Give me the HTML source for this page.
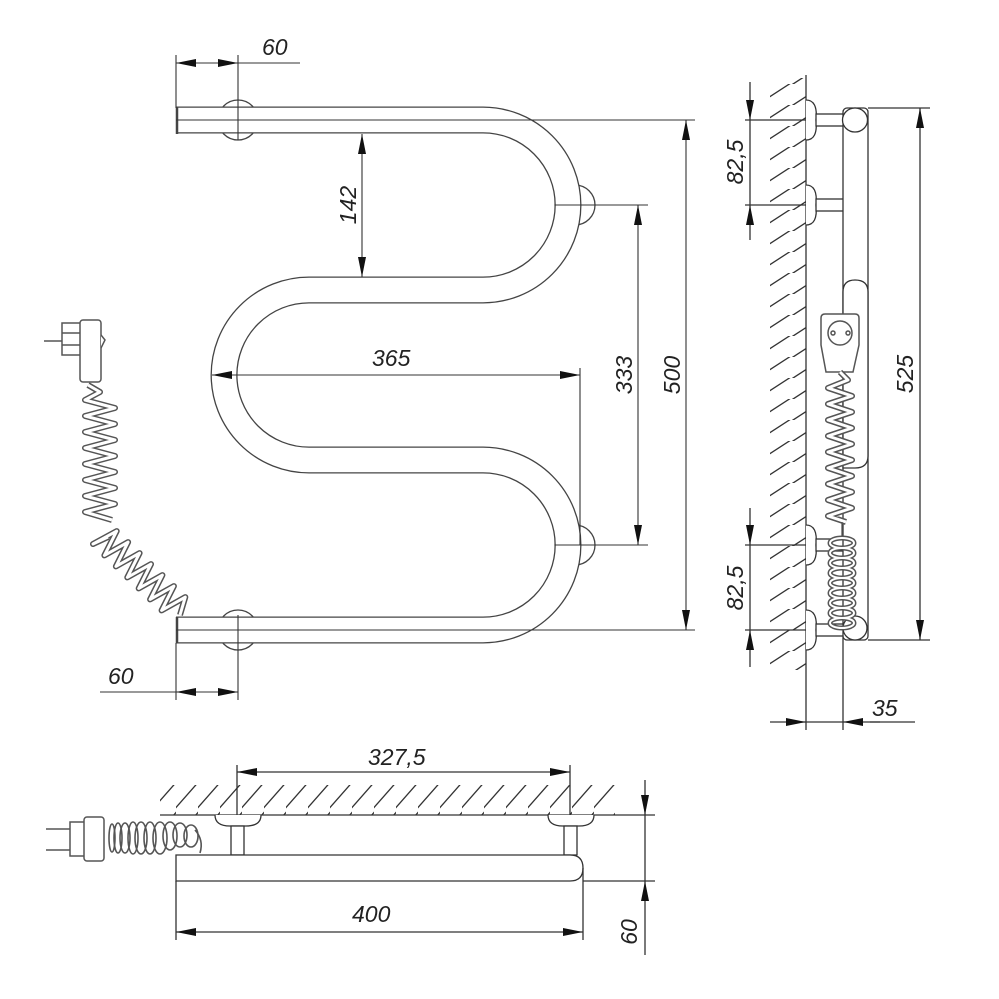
<!DOCTYPE html>
<html><head><meta charset="utf-8"><style>
html,body{margin:0;padding:0;background:#fff}
svg{display:block}
text{font-family:"Liberation Sans",sans-serif;font-style:italic;font-size:23px;fill:#222}
</style></head><body>
<svg width="999" height="999" viewBox="0 0 999 999" xmlns="http://www.w3.org/2000/svg">
<defs>
<marker id="a" viewBox="0 0 20 8" refX="20" refY="4" markerWidth="20" markerHeight="8" markerUnits="userSpaceOnUse" orient="auto-start-reverse"><path d="M0,0 L20,4 L0,8 Z" fill="#111"/></marker>
<pattern id="h1" width="22" height="30" patternUnits="userSpaceOnUse"><line x1="-4" y1="32" x2="26" y2="-2" stroke="#333" stroke-width="1.3"/></pattern>
<pattern id="h3" width="36" height="21" patternUnits="userSpaceOnUse"><line x1="-2" y1="23" x2="38" y2="-3" stroke="#333" stroke-width="1.3"/></pattern>
</defs>
<g fill="none" stroke="#444" stroke-width="1.3">
<circle cx="238" cy="120" r="20" fill="#fff"/>
<circle cx="575" cy="205" r="20" fill="#fff"/>
<circle cx="575" cy="545" r="20" fill="#fff"/>
<circle cx="238" cy="630" r="20" fill="#fff"/>
</g>
<path d="M176,120 H483 A85,85 0 0 1 483,290 H309 A85,85 0 0 0 309,460 H483 A85,85 0 0 1 483,630 H176" fill="none" stroke="#444" stroke-width="27"/>
<path d="M176,120 H483 A85,85 0 0 1 483,290 H309 A85,85 0 0 0 309,460 H483 A85,85 0 0 1 483,630 H176" fill="none" stroke="#fff" stroke-width="24.4"/>
<g stroke="#444" stroke-width="2.5"><line x1="177" y1="107" x2="177" y2="134"/><line x1="177" y1="617" x2="177" y2="643"/></g>
<g fill="none" stroke="#333" stroke-width="1.1">
<line x1="176" y1="120" x2="695" y2="120"/>
<line x1="176" y1="630" x2="695" y2="630"/>
<line x1="555" y1="205" x2="648" y2="205"/>
<line x1="555" y1="545" x2="648" y2="545"/>
<line x1="238" y1="55" x2="238" y2="140"/>
<line x1="176" y1="55" x2="176" y2="108"/>
<line x1="238" y1="615" x2="238" y2="700"/>
<line x1="176" y1="643" x2="176" y2="700"/>
<line x1="580" y1="368" x2="580" y2="545"/>
<line x1="176" y1="63" x2="238" y2="63" marker-start="url(#a)" marker-end="url(#a)"/>
<line x1="238" y1="63" x2="300" y2="63"/>
<line x1="362" y1="134" x2="362" y2="277" marker-start="url(#a)" marker-end="url(#a)"/>
<line x1="212" y1="375" x2="580" y2="375" marker-start="url(#a)" marker-end="url(#a)"/>
<line x1="638" y1="205" x2="638" y2="545" marker-start="url(#a)" marker-end="url(#a)"/>
<line x1="686" y1="120" x2="686" y2="630" marker-start="url(#a)" marker-end="url(#a)"/>
<line x1="176" y1="692" x2="238" y2="692" marker-start="url(#a)" marker-end="url(#a)"/>
<line x1="100" y1="692" x2="176" y2="692"/>
</g>
<text x="262" y="55">60</text>
<text x="108" y="684">60</text>
<text x="372" y="366">365</text>
<text transform="translate(356,205) rotate(-90)" text-anchor="middle">142</text>
<text transform="translate(632,375) rotate(-90)" text-anchor="middle">333</text>
<text transform="translate(680,375) rotate(-90)" text-anchor="middle">500</text>
<g fill="#fff" stroke="#555" stroke-width="1.5">
<line x1="44" y1="341" x2="62" y2="341"/>
<rect x="62" y="323" width="20" height="32"/>
<line x1="62" y1="333" x2="82" y2="333"/><line x1="62" y1="345" x2="82" y2="345"/>
<rect x="80" y="320" width="21" height="62" rx="3"/>
<path d="M101,335 L105,340 L101,348"/>
</g>
<polyline points="88,385 100,392 85,400 115,408 85,416 115,424 85,432 115,440 85,448 115,456 85,464 115,472 85,480 115,488 85,496 115,504 85,512 112,520" fill="none" stroke="#555" stroke-width="6" stroke-linejoin="round"/>
<polyline points="88,385 100,392 85,400 115,408 85,416 115,424 85,432 115,440 85,448 115,456 85,464 115,472 85,480 115,488 85,496 115,504 85,512 112,520" fill="none" stroke="#fff" stroke-width="3" stroke-linejoin="round"/>
<polyline points="108,537 93,544 116.7,531.1 104.4,555.4 128.1,542.1 115.9,566.4 139.6,553.1 127.3,577.4 151,564.1 138.7,588.4 162.4,575.1 150.1,599.4 173.9,586.1 161.6,610.4 185.3,597.1 180,615" fill="none" stroke="#555" stroke-width="6" stroke-linejoin="round"/>
<polyline points="108,537 93,544 116.7,531.1 104.4,555.4 128.1,542.1 115.9,566.4 139.6,553.1 127.3,577.4 151,564.1 138.7,588.4 162.4,575.1 150.1,599.4 173.9,586.1 161.6,610.4 185.3,597.1 180,615" fill="none" stroke="#fff" stroke-width="3" stroke-linejoin="round"/>

<!-- SIDE VIEW -->
<rect x="770" y="78" width="36" height="592" fill="url(#h3)"/>
<g fill="none" stroke="#333" stroke-width="1.3">
<line x1="806" y1="75" x2="806" y2="730"/>
<line x1="843" y1="635" x2="843" y2="730"/>
<g fill="#fff">
<path d="M806,100 Q818,100 816,120 Q818,140 806,140"/>
<path d="M806,185 Q818,185 816,205 Q818,225 806,225"/>
<path d="M806,525 Q818,525 816,545 Q818,565 806,565"/>
<path d="M806,610 Q818,610 816,630 Q818,650 806,650"/>
<rect x="816" y="114" width="28" height="12"/>
<rect x="816" y="199" width="28" height="12"/>
<rect x="816" y="539" width="28" height="12"/>
<rect x="816" y="624" width="28" height="12"/>
<rect x="843" y="108" width="25" height="532" rx="4"/>
<path d="M843,468 V292 Q843,280 855,280 Q868,280 868,292 V456 Q868,468 855,468 Z"/>
<ellipse cx="855" cy="120" rx="12.5" ry="12"/>
<circle cx="855" cy="628" r="12"/>
</g>
<line x1="745" y1="120" x2="806" y2="120"/><line x1="745" y1="205" x2="806" y2="205"/>
<line x1="745" y1="545" x2="806" y2="545"/><line x1="745" y1="630" x2="806" y2="630"/>
<line x1="750" y1="82" x2="750" y2="120" marker-end="url(#a)"/>
<line x1="750" y1="120" x2="750" y2="205"/>
<line x1="750" y1="240" x2="750" y2="205" marker-end="url(#a)"/>
<line x1="750" y1="508" x2="750" y2="545" marker-end="url(#a)"/>
<line x1="750" y1="545" x2="750" y2="630"/>
<line x1="750" y1="667" x2="750" y2="630" marker-end="url(#a)"/>
<line x1="868" y1="108" x2="930" y2="108"/><line x1="868" y1="640" x2="930" y2="640"/>
<line x1="920" y1="108" x2="920" y2="640" marker-start="url(#a)" marker-end="url(#a)"/>
<line x1="770" y1="722" x2="806" y2="722" marker-end="url(#a)"/>
<line x1="806" y1="722" x2="843" y2="722"/>
<line x1="880" y1="722" x2="843" y2="722" marker-end="url(#a)"/>
<line x1="870" y1="722" x2="915" y2="722"/>
</g>
<text transform="translate(743,162) rotate(-90)" text-anchor="middle">82,5</text>
<text transform="translate(743,588) rotate(-90)" text-anchor="middle">82,5</text>
<text transform="translate(913,374) rotate(-90)" text-anchor="middle">525</text>
<text x="872" y="716">35</text>
<g fill="#fff" stroke="#555" stroke-width="1.5">
<path d="M821,318 Q821,314 825,314 H855 Q859,314 859,318 V345 L853,372 H826 L821,345 Z"/>
<circle cx="840" cy="333" r="12"/>
<circle cx="833" cy="333" r="2"/><circle cx="848" cy="333" r="2"/>
</g>
<polyline points="840,372 848,380 828,388 852,396 828,404 852,412 828,420 852,428 828,436 852,444 828,452 852,460 828,468 852,476 828,484 852,492 828,500 852,508 828,516 846,522" fill="none" stroke="#555" stroke-width="6" stroke-linejoin="round"/>
<polyline points="840,372 848,380 828,388 852,396 828,404 852,412 828,420 852,428 828,436 852,444 828,452 852,460 828,468 852,476 828,484 852,492 828,500 852,508 828,516 846,522" fill="none" stroke="#fff" stroke-width="3" stroke-linejoin="round"/>
<line x1="842" y1="522" x2="842" y2="540" stroke="#555" stroke-width="1.3"/>
<g fill="none" stroke="#555" stroke-width="5">
<ellipse cx="842" cy="543" rx="12" ry="5"/><ellipse cx="842" cy="553" rx="12" ry="5"/><ellipse cx="842" cy="563" rx="12" ry="5"/><ellipse cx="842" cy="573" rx="12" ry="5"/><ellipse cx="842" cy="583" rx="12" ry="5"/><ellipse cx="842" cy="593" rx="12" ry="5"/><ellipse cx="842" cy="603" rx="12" ry="5"/><ellipse cx="842" cy="613" rx="12" ry="5"/><ellipse cx="842" cy="623" rx="12" ry="5"/>
</g>
<g fill="none" stroke="#fff" stroke-width="2">
<ellipse cx="842" cy="543" rx="12" ry="5"/><ellipse cx="842" cy="553" rx="12" ry="5"/><ellipse cx="842" cy="563" rx="12" ry="5"/><ellipse cx="842" cy="573" rx="12" ry="5"/><ellipse cx="842" cy="583" rx="12" ry="5"/><ellipse cx="842" cy="593" rx="12" ry="5"/><ellipse cx="842" cy="603" rx="12" ry="5"/><ellipse cx="842" cy="613" rx="12" ry="5"/><ellipse cx="842" cy="623" rx="12" ry="5"/>
</g>

<!-- BOTTOM VIEW -->
<rect x="160" y="785" width="455" height="30" fill="url(#h1)"/>
<g fill="none" stroke="#333" stroke-width="1.3">
<line x1="160" y1="815" x2="655" y2="815"/>
<g fill="#fff">
<path d="M215,815 Q215,826 230,826 H246 Q261,826 261,815"/>
<path d="M548,815 Q548,826 563,826 H579 Q594,826 594,815"/>
<rect x="231" y="826" width="13" height="29"/>
<rect x="564" y="826" width="13" height="29"/>
<path d="M176,855 H570 Q583,855 583,868 Q583,881 570,881 H176 Z"/>
</g>
<line x1="237" y1="765" x2="237" y2="815"/><line x1="570" y1="765" x2="570" y2="815"/>
<line x1="237" y1="772" x2="570" y2="772" marker-start="url(#a)" marker-end="url(#a)"/>
<line x1="176" y1="881" x2="176" y2="940"/><line x1="583" y1="868" x2="583" y2="940"/>
<line x1="176" y1="932" x2="583" y2="932" marker-start="url(#a)" marker-end="url(#a)"/>
<line x1="583" y1="881" x2="655" y2="881"/>
<line x1="645" y1="780" x2="645" y2="815" marker-end="url(#a)"/>
<line x1="645" y1="815" x2="645" y2="881"/>
<line x1="645" y1="955" x2="645" y2="881" marker-end="url(#a)"/>
</g>
<text x="368" y="765">327,5</text>
<text x="352" y="922">400</text>
<text transform="translate(637,932) rotate(-90)" text-anchor="middle">60</text>
<g fill="#fff" stroke="#555" stroke-width="1.5">
<line x1="46" y1="829" x2="70" y2="829"/><line x1="46" y1="850" x2="70" y2="850"/>
<rect x="70" y="822" width="16" height="34"/>
<rect x="84" y="817" width="20" height="44" rx="3"/>
</g>
<g fill="none" stroke="#555" stroke-width="1.6">
<ellipse cx="112" cy="838" rx="3" ry="14"/><ellipse cx="118" cy="838" rx="4" ry="15"/><ellipse cx="125" cy="838" rx="5" ry="15"/><ellipse cx="133" cy="838" rx="5" ry="16"/><ellipse cx="141" cy="838" rx="6" ry="16"/><ellipse cx="150" cy="838" rx="6" ry="16"/><ellipse cx="160" cy="838" rx="7" ry="16"/><ellipse cx="170" cy="836" rx="7" ry="14"/><ellipse cx="180" cy="835" rx="7" ry="12"/><ellipse cx="191" cy="836" rx="7" ry="11"/>
<path d="M195,830 Q204,840 200,853"/>
</g>
</svg>
</body></html>
